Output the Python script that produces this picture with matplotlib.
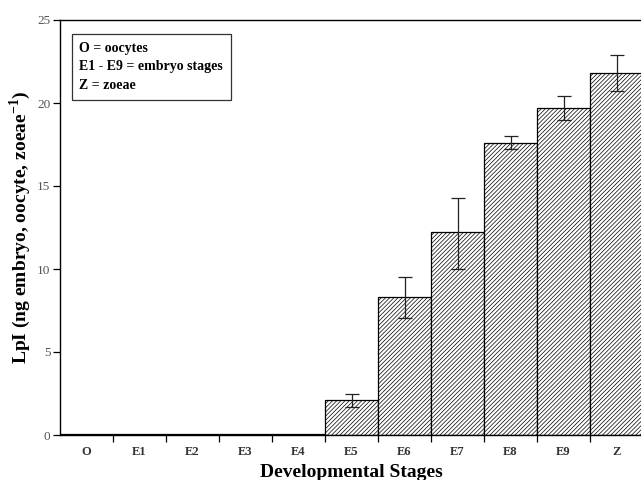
import matplotlib
matplotlib.use("Agg")
import matplotlib.pyplot as plt
import numpy as np

stages = ["O", "E1", "E2", "E3", "E4", "E5", "E6", "E7", "E8", "E9", "Z"]
lpi = [0.05, 0.05, 0.05, 0.05, 0.05, 2.1, 8.3, 12.2, 17.6, 19.7, 21.8]
err_lo = [0, 0, 0, 0, 0, 0.4, 1.25, 2.2, 0.4, 0.7, 1.1]
err_hi = [0, 0, 0, 0, 0, 0.4, 1.2, 2.1, 0.4, 0.7, 1.1]
legend_lines = ["O = oocytes", "E1 - E9 = embryo stages", "Z = zoeae"]

plt.rcParams['font.family'] = ['Liberation Serif', 'DejaVu Serif']
plt.rcParams['hatch.linewidth'] = 0.5
plt.rcParams['hatch.color'] = '#555555'
plt.rcParams['mathtext.fontset'] = 'custom'
plt.rcParams['mathtext.rm'] = 'Liberation Serif'
plt.rcParams['mathtext.bf'] = 'Liberation Serif:bold'

fig = plt.figure(figsize=(6.41, 4.8), dpi=100)
ax = fig.add_axes([60/641, 45/480, 583/641, 415/480])

x = np.arange(len(stages)) + 0.5
ax.bar(x, lpi, width=1.0, color='white', edgecolor='black', linewidth=0.9,
       hatch='////////', zorder=2)
mask = [i for i in range(len(stages)) if err_hi[i] > 0]
ax.errorbar([x[i] for i in mask], [lpi[i] for i in mask],
            yerr=[[err_lo[i] for i in mask], [err_hi[i] for i in mask]],
            fmt='none', ecolor='#222222', elinewidth=0.9, capsize=5, capthick=0.9, zorder=3)

ax.set_xlim(0, 11)
ax.set_ylim(0, 25)
ax.set_yticks([0, 5, 10, 15, 20, 25])
ax.set_xticks(np.arange(1, 11))
ax.set_xticklabels([])
ax.set_xticks(x, minor=True)
ax.set_xticklabels(stages, minor=True, fontsize=9, fontweight='bold', color='#333333')
ax.tick_params(axis='x', which='minor', length=0, pad=8)
ax.tick_params(axis='x', which='major', direction='out', length=5, width=0.9)
ax.tick_params(axis='y', direction='out', length=5, width=0.9, labelsize=9.5,
               labelcolor='#555555', pad=2)
for s in ['left', 'top', 'bottom']:
    ax.spines[s].set_linewidth(1.0)
ax.spines['right'].set_visible(False)

ax.set_ylabel("LpI (ng embryo, oocyte, zoeae$^{\\mathbf{-1}}$)", fontsize=14,
              fontweight='bold', labelpad=3)
ax.set_xlabel("Developmental Stages", fontsize=14, fontweight='bold', labelpad=4)

ax.text(0.033, 0.947, "\n".join(legend_lines), transform=ax.transAxes,
        fontsize=10, fontweight='bold', va='top', ha='left', linespacing=1.55,
        bbox=dict(boxstyle='square,pad=0.55', facecolor='white', edgecolor='#333333',
                  linewidth=0.9), zorder=5)

fig.savefig("out.png", dpi=100)
